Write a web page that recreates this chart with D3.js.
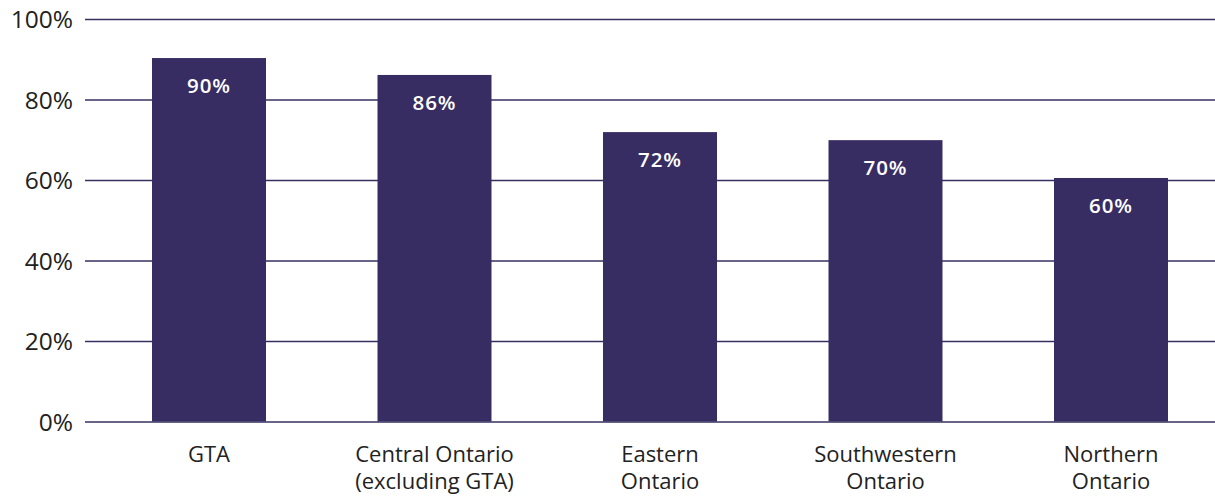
<!DOCTYPE html>
<html><head><meta charset="utf-8">
<script src="https://cdn.jsdelivr.net/npm/d3@7"></script>
<style>body{margin:0;background:#fff;}svg{display:block;}</style>
</head><body>
<svg id="c" width="1215" height="497"></svg>
<script>
const categories = [["GTA"], ["Central Ontario", "(excluding GTA)"], ["Eastern", "Ontario"], ["Southwestern", "Ontario"], ["Northern", "Ontario"]];
const values = [90.3, 86.1, 71.9, 69.9, 60.5];
const valueLabels = ["90%", "86%", "72%", "70%", "60%"];
const yTicks = [0, 20, 40, 60, 80, 100];

const svg = d3.select("#c");
const font = "'Open Sans', Lato, sans-serif";
const barColor = "#372d63";
const y = d3.scaleLinear().domain([0, 100]).range([421.5, 19]);
const x = d3.scaleBand().domain(d3.range(categories.length)).range([96.25, 1223.75]).paddingInner(0.4945).paddingOuter(0.24725);

const yAxis = d3.axisLeft(y).tickValues(yTicks).tickFormat(d => d + "%").tickSize(-(1215 - 85)).tickPadding(12);
const gy = svg.append("g").attr("transform", "translate(85,0)").call(yAxis);
gy.select(".domain").remove();
gy.selectAll(".tick line").attr("stroke", "#35305f").attr("stroke-width", 1.3);
gy.selectAll(".tick text").attr("font-family", font).attr("font-size", 24.5).attr("fill", "#222").attr("dy", "0.36em");

svg.append("g").selectAll("rect").data(values).join("rect")
  .attr("x", (d, i) => x(i)).attr("width", x.bandwidth())
  .attr("y", d => y(d)).attr("height", d => y(0) - y(d)).attr("fill", barColor);

svg.append("g").selectAll("text").data(values).join("text")
  .attr("x", (d, i) => x(i) + x.bandwidth() / 2).attr("y", d => y(d) + 35)
  .attr("text-anchor", "middle").attr("font-family", font).attr("font-weight", 600)
  .attr("font-size", 20.5).attr("letter-spacing", 1).attr("fill", "#fff").text((d, i) => valueLabels[i]);

const xAxis = d3.axisBottom(x).tickSize(0).tickFormat("");
const gx = svg.append("g").attr("transform", "translate(0,421.5)").call(xAxis);
gx.select(".domain").remove();
gx.selectAll(".tick").each(function(d) {
  const g = d3.select(this);
  categories[d].forEach((line, j) => g.append("text").attr("text-anchor", "middle")
    .attr("font-family", font).attr("font-size", 22).attr("fill", "#222")
    .attr("x", 0).attr("y", 40.5 + j * 27).text(line));
});
</script>
</body></html>
